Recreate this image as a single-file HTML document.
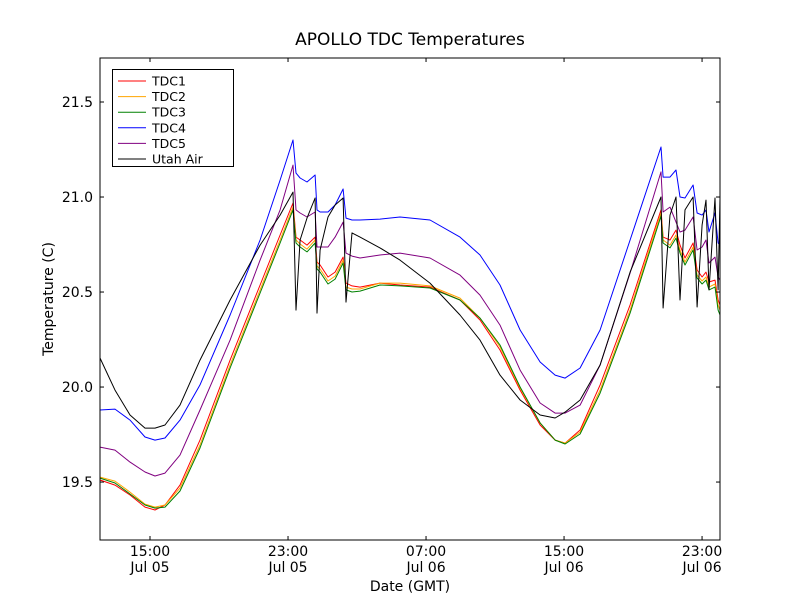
<!DOCTYPE html>
<html><head><meta charset="utf-8"><style>
body{margin:0;background:#fff}
svg{font-family:"DejaVu Sans","Liberation Sans",sans-serif}
</style></head><body>
<svg id="chart" width="800" height="600" xmlns="http://www.w3.org/2000/svg">
<rect width="800" height="600" fill="#fff"/>
<text x="410" y="45" font-size="17" text-anchor="middle">APOLLO TDC Temperatures</text>
<text x="410" y="591" font-size="14" text-anchor="middle">Date (GMT)</text>
<text x="0" y="0" font-size="14" text-anchor="middle" transform="translate(53,299) rotate(-90)">Temperature (C)</text>
<g id="series"></g>
<g id="axes"></g>
<g id="legend"></g>
</svg>
<script>
const times=[12.10,12.97,13.84,14.71,15.29,15.87,16.74,17.90,19.64,21.38,22.54,23.29,
23.46,23.70,24.10,24.57,24.68,24.86,25.32,25.73,26.19,26.36,26.71,27.17,
28.33,29.49,31.23,32.97,34.13,35.29,36.45,37.61,38.48,39.06,39.93,41.09,42.83,
44.62,44.74,45.14,45.49,45.72,46.01,46.48,46.71,47.00,47.23,47.40,47.75,47.93,48.04];
const tdc1=[19.511,19.484,19.432,19.368,19.353,19.379,19.484,19.721,20.142,20.537,20.800,20.968,
20.789,20.774,20.747,20.789,20.658,20.642,20.579,20.605,20.684,20.547,20.532,20.526,
20.547,20.537,20.526,20.458,20.353,20.195,19.984,19.800,19.721,19.705,19.774,20.011,20.432,
20.932,20.789,20.774,20.826,20.747,20.679,20.758,20.616,20.579,20.605,20.553,20.563,20.458,20.432];
const tdc2=[19.526,19.505,19.447,19.384,19.368,19.379,19.468,19.695,20.116,20.511,20.774,20.947,
20.774,20.753,20.726,20.774,20.637,20.621,20.558,20.584,20.668,20.526,20.516,20.516,
20.547,20.547,20.532,20.468,20.363,20.211,19.995,19.811,19.721,19.705,19.763,19.984,20.405,
20.916,20.774,20.747,20.800,20.721,20.658,20.737,20.589,20.558,20.579,20.526,20.542,20.432,20.405];
const tdc3=[19.521,19.495,19.437,19.379,19.363,19.368,19.453,19.679,20.100,20.495,20.758,20.932,
20.758,20.737,20.711,20.758,20.621,20.605,20.542,20.568,20.653,20.511,20.500,20.505,
20.537,20.532,20.521,20.458,20.363,20.221,20.000,19.811,19.721,19.700,19.753,19.968,20.389,
20.900,20.758,20.732,20.784,20.705,20.642,20.721,20.574,20.542,20.563,20.511,20.526,20.405,20.379];
const tdc4=[19.879,19.884,19.826,19.737,19.721,19.732,19.826,20.011,20.379,20.774,21.089,21.300,
21.126,21.100,21.079,21.116,20.932,20.921,20.921,20.958,21.042,20.889,20.879,20.879,
20.884,20.895,20.879,20.789,20.695,20.537,20.300,20.132,20.063,20.047,20.100,20.300,20.774,
21.263,21.105,21.105,21.142,21.000,20.995,21.063,20.916,20.905,20.932,20.816,20.916,20.758,20.747];
const tdc5=[19.684,19.668,19.605,19.553,19.532,19.547,19.642,19.879,20.247,20.668,20.932,21.168,
20.932,20.916,20.895,20.921,20.737,20.737,20.737,20.789,20.868,20.705,20.689,20.679,
20.695,20.705,20.679,20.589,20.484,20.326,20.089,19.916,19.863,19.863,19.905,20.116,20.600,
21.132,20.921,20.947,20.868,20.816,20.826,20.895,20.721,20.737,20.774,20.653,20.684,20.579,20.563];
const utahAir=[20.153,19.984,19.853,19.784,19.784,19.800,19.905,20.142,20.458,20.747,20.905,21.026,
20.405,20.774,20.889,20.995,20.389,20.721,20.895,20.958,20.995,20.447,20.811,20.789,
20.732,20.668,20.547,20.379,20.247,20.063,19.932,19.853,19.837,19.868,19.932,20.116,20.605,
21.000,20.416,20.905,21.000,20.458,20.932,21.000,20.421,20.853,20.984,20.511,20.995,20.511,20.995];
const seriesNames=["TDC1","TDC2","TDC3","TDC4","TDC5","Utah Air"];
const yTicks=[19.5,20.0,20.5,21.0,21.5];
const yTickLabels=["19.5","20.0","20.5","21.0","21.5"];
const xTicks=[15,23,31,39,47];
const xTickTimes=["15:00","23:00","07:00","15:00","23:00"];
const xTickDates=["Jul 05","Jul 05","Jul 06","Jul 06","Jul 06"];

const L=100,R=720,T=58,B=540;
const X0=12.101,X1=48.04,Y0=19.195,Y1=21.7316;
function xs(t){return L+(t-X0)/(X1-X0)*(R-L);}
function ys(v){return B-(v-Y0)/(Y1-Y0)*(B-T);}
const NS="http://www.w3.org/2000/svg";
function mk(tag,attrs,parent){const e=document.createElementNS(NS,tag);for(const k in attrs)e.setAttribute(k,attrs[k]);parent.appendChild(e);return e;}

const colors=["#ff0000","#ffa500","#008000","#0000ff","#800080","#000000"];
const data=[tdc1,tdc2,tdc3,tdc4,tdc5,utahAir];
const sg=document.getElementById('series');
data.forEach((vals,i)=>{
  const p=mk('polyline',{points:vals.map((v,j)=>xs(times[j]).toFixed(1)+','+ys(v).toFixed(1)).join(' '),fill:'none',stroke:colors[i],'stroke-width':1,'stroke-linejoin':'round'},sg);
  
  
});

const ax=document.getElementById('axes');
const frame=mk('rect',{x:L,y:T,width:R-L,height:B-T,fill:'none',stroke:'#000','stroke-width':1},ax);


yTicks.forEach((v,i)=>{
  const y=ys(v);
  mk('line',{x1:L,x2:L+4,y1:y,y2:y,stroke:'#000'},ax);
  mk('line',{x1:R-4,x2:R,y1:y,y2:y,stroke:'#000'},ax);
  const t=mk('text',{x:L-7,y:y+5,'font-size':14,'text-anchor':'end'},ax);
  t.textContent=yTickLabels[i];
  
  
});
xTicks.forEach((tv,i)=>{
  const x=xs(tv);
  mk('line',{x1:x,x2:x,y1:B,y2:B-4,stroke:'#000'},ax);
  mk('line',{x1:x,x2:x,y1:T,y2:T+4,stroke:'#000'},ax);
  const t=mk('text',{x:x,y:B+16,'font-size':14,'text-anchor':'middle'},ax);
  t.textContent=xTickTimes[i];
  
  
  const d=mk('text',{x:x,y:B+32,'font-size':14,'text-anchor':'middle'},ax);
  d.textContent=xTickDates[i];
  
  
});

const lg=document.getElementById('legend');
const box=mk('rect',{x:112.5,y:69.5,width:121,height:97,fill:'#fff',stroke:'#000'},lg);


seriesNames.forEach((n,i)=>{
  const y=81+i*15.6;
  const ln=mk('line',{x1:118,x2:146,y1:y,y2:y,stroke:colors[i]},lg);
  
  
  const t=mk('text',{x:152,y:y+4.5,'font-size':12.5},lg);
  t.textContent=n;
  
  
});
</script>
</body></html>
